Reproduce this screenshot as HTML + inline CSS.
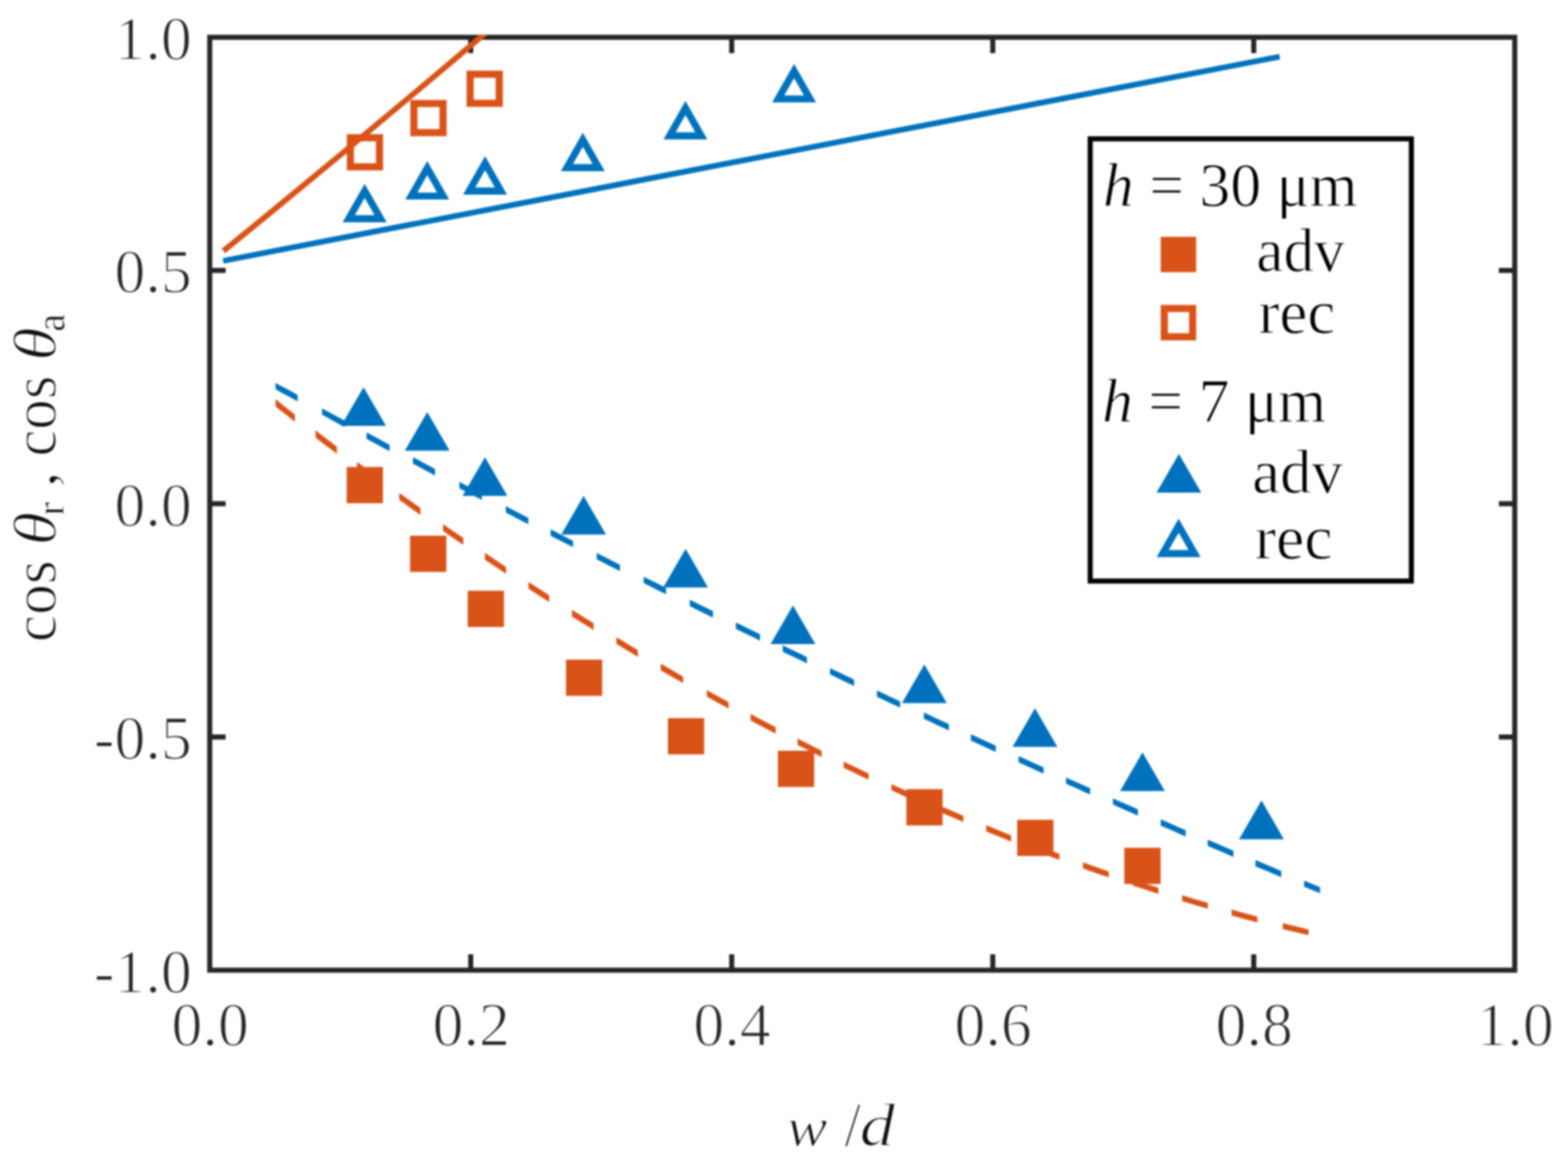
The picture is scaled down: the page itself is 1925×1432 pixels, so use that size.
<!DOCTYPE html>
<html><head><meta charset="utf-8"><title>cos theta vs w/d</title>
<style>html,body{margin:0;padding:0;background:#fff;}body{width:1925px;height:1432px;overflow:hidden;}svg{display:block;filter:blur(1px);}text{font-family:'Liberation Serif', 'Times New Roman', serif;fill:#262626;stroke:#fff;stroke-width:1.1px;paint-order:fill;}</style>
</head><body>
<svg width="1925" height="1432" viewBox="0 0 1925 1432">
<rect x="0" y="0" width="1925" height="1432" fill="#fff"/>
<defs><clipPath id="ax"><rect x="257.5" y="43.0" width="1602.1" height="1148.5"/></clipPath></defs>
<g stroke="#262626" stroke-width="6.2" fill="none">
<rect x="257.5" y="45.8" width="1602.1" height="1145.7"/>
<path d="M577.9 1191.5V1172.0M577.9 45.8V65.3M898.3 1191.5V1172.0M898.3 45.8V65.3M1218.8 1191.5V1172.0M1218.8 45.8V65.3M1539.2 1191.5V1172.0M1539.2 45.8V65.3M257.5 905.1H277.0M1859.6 905.1H1840.1M257.5 618.6H277.0M1859.6 618.6H1840.1M257.5 332.2H277.0M1859.6 332.2H1840.1"/>
</g>
<g clip-path="url(#ax)" fill="none" stroke-width="7.0">
<path d="M274 320.4L1571 69.6" stroke="#0072BD"/>
<path d="M274.30 308.21Q437.15 175.83 600.00 37.17" stroke="#D95319"/>
<path d="M338.3 470.2L345.1 473.9L351.9 477.6L358.6 481.3L365.4 485.0L365.4 493.0L358.6 489.3L351.9 485.6L345.1 481.9L338.3 478.1ZM395.3 501.4L402.2 505.2L409.2 508.9L416.1 512.7L423.1 516.5L423.1 524.4L416.1 520.7L409.2 516.9L402.2 513.1L395.3 509.3ZM450.0 531.0L457.1 534.8L464.1 538.6L471.2 542.4L478.3 546.2L478.3 554.1L471.2 550.4L464.1 546.6L457.1 542.8L450.0 539.0ZM507.0 561.5L513.8 565.1L520.5 568.8L527.3 572.3L534.1 575.9L534.1 583.9L527.3 580.3L520.5 576.7L513.8 573.1L507.0 569.5ZM564.0 591.7L570.9 595.4L577.8 599.0L584.7 602.6L591.6 606.2L591.6 614.1L584.7 610.5L577.8 606.9L570.9 603.3L564.0 599.7ZM621.0 621.6L627.9 625.2L634.8 628.8L641.7 632.4L648.6 635.9L648.6 643.8L641.7 640.2L634.8 636.7L627.9 633.1L621.0 629.5ZM676.0 650.1L682.9 653.6L689.8 657.2L696.6 660.7L703.5 664.2L703.5 672.1L696.6 668.6L689.8 665.0L682.9 661.5L676.0 658.0ZM732.6 679.1L739.7 682.7L746.9 686.3L754.0 689.9L761.1 693.5L761.1 701.4L754.0 697.8L746.9 694.2L739.7 690.5L732.6 686.9ZM790.2 708.2L797.1 711.7L804.0 715.1L810.8 718.6L817.7 722.0L817.7 729.8L810.8 726.4L804.0 722.9L797.1 719.5L790.2 716.0ZM846.8 736.5L853.9 740.0L861.0 743.6L868.2 747.1L875.3 750.6L875.3 758.4L868.2 754.9L861.0 751.4L853.9 747.9L846.8 744.3ZM903.4 764.5L910.8 768.1L918.2 771.7L925.6 775.3L933.0 779.0L933.0 786.8L925.6 783.1L918.2 779.5L910.8 775.9L903.4 772.3ZM961.0 792.6L968.4 796.2L975.8 799.7L983.2 803.3L990.6 806.9L990.6 814.7L983.2 811.1L975.8 807.5L968.4 803.9L961.0 800.4ZM1019.0 820.5L1026.4 824.1L1033.8 827.6L1041.2 831.1L1048.6 834.7L1048.6 842.4L1041.2 838.9L1033.8 835.4L1026.4 831.8L1019.0 828.3ZM1076.6 847.9L1083.7 851.3L1090.8 854.7L1098.0 858.0L1105.1 861.4L1105.1 869.1L1098.0 865.8L1090.8 862.4L1083.7 859.0L1076.6 855.7ZM1134.2 875.0L1141.9 878.6L1149.5 882.2L1157.2 885.7L1164.9 889.3L1164.9 897.0L1157.2 893.4L1149.5 889.9L1141.9 886.3L1134.2 882.7ZM1191.9 901.8L1199.6 905.3L1207.2 908.8L1214.8 912.3L1222.5 915.8L1222.5 923.5L1214.8 920.0L1207.2 916.5L1199.6 913.0L1191.9 909.5ZM1250.5 928.6L1258.2 932.1L1265.8 935.5L1273.5 939.0L1281.2 942.5L1281.2 950.1L1273.5 946.7L1265.8 943.2L1258.2 939.7L1250.5 936.3ZM1308.7 954.8L1316.1 958.2L1323.5 961.5L1330.9 964.8L1338.3 968.1L1338.3 975.7L1330.9 972.4L1323.5 969.1L1316.1 965.8L1308.7 962.5ZM1366.3 980.5L1374.0 983.9L1381.7 987.3L1389.3 990.6L1397.0 994.0L1397.0 1001.7L1389.3 998.3L1381.7 994.9L1374.0 991.5L1366.3 988.1ZM1425.0 1006.3L1432.7 1009.6L1440.3 1012.9L1447.9 1016.2L1455.6 1019.6L1455.6 1027.2L1447.9 1023.9L1440.3 1020.6L1432.7 1017.2L1425.0 1013.9ZM1482.6 1031.2L1490.5 1034.6L1498.5 1038.0L1506.4 1041.4L1514.3 1044.8L1514.3 1052.4L1506.4 1049.0L1498.5 1045.6L1490.5 1042.2L1482.6 1038.8ZM1541.3 1056.3L1549.2 1059.6L1557.2 1063.0L1565.1 1066.3L1573.0 1069.7L1573.0 1077.2L1565.1 1073.9L1557.2 1070.6L1549.2 1067.2L1541.3 1063.9ZM1601.0 1081.4L1605.9 1083.4L1610.8 1085.5L1615.7 1087.5L1620.6 1089.5L1620.6 1097.1L1615.7 1095.1L1610.8 1093.1L1605.9 1091.0L1601.0 1089.0Z" fill="#0072BD" stroke="none"/>
<path d="M338.3 490.3L344.2 495.0L350.2 499.7L356.1 504.4L362.1 509.0L362.1 517.9L356.1 513.2L350.2 508.6L344.2 503.9L338.3 499.2ZM387.4 528.6L393.9 533.6L400.4 538.6L407.0 543.5L413.5 548.5L413.5 557.3L407.0 552.3L400.4 547.4L393.9 542.4L387.4 537.4ZM438.4 567.2L444.9 572.1L451.5 576.9L458.1 581.8L464.6 586.6L464.6 595.3L458.1 590.5L451.5 585.6L444.9 580.8L438.4 575.9ZM490.2 605.3L496.7 610.0L503.2 614.6L509.7 619.3L516.2 623.9L516.2 632.5L509.7 627.9L503.2 623.3L496.7 618.6L490.2 613.9ZM543.9 643.5L550.1 647.9L556.4 652.2L562.6 656.5L568.8 660.8L568.8 669.3L562.6 665.0L556.4 660.7L550.1 656.4L543.9 652.0ZM595.3 678.9L601.8 683.3L608.3 687.7L614.8 692.1L621.3 696.4L621.3 704.8L614.8 700.5L608.3 696.1L601.8 691.8L595.3 687.4ZM648.8 714.6L655.1 718.7L661.5 722.8L667.9 726.9L674.2 731.0L674.2 739.4L667.9 735.3L661.5 731.2L655.1 727.1L648.8 722.9ZM702.2 748.9L708.8 753.1L715.5 757.2L722.1 761.3L728.7 765.5L728.7 773.7L722.1 769.6L715.5 765.5L708.8 761.3L702.2 757.2ZM756.7 782.6L763.3 786.6L769.9 790.6L776.5 794.6L783.1 798.5L783.1 806.7L776.5 802.7L769.9 798.8L763.3 794.8L756.7 790.8ZM811.2 815.1L818.1 819.1L825.0 823.1L831.8 827.0L838.7 831.0L838.7 839.0L831.8 835.1L825.0 831.2L818.1 827.2L811.2 823.2ZM867.8 847.4L874.5 851.2L881.1 854.9L887.8 858.5L894.5 862.2L894.5 870.2L887.8 866.5L881.1 862.9L874.5 859.2L867.8 855.5ZM921.5 876.8L929.2 880.9L936.9 885.0L944.5 889.1L952.2 893.1L952.2 901.0L944.5 897.0L936.9 892.9L929.2 888.9L921.5 884.8ZM979.2 907.0L986.6 910.8L994.0 914.5L1001.3 918.2L1008.7 921.9L1008.7 929.7L1001.3 926.0L994.0 922.3L986.6 918.6L979.2 914.9ZM1035.7 935.2L1043.4 938.9L1051.0 942.6L1058.7 946.2L1066.4 949.9L1066.4 957.6L1058.7 954.0L1051.0 950.3L1043.4 946.6L1035.7 942.9ZM1094.4 962.9L1102.0 966.4L1109.5 969.8L1117.0 973.2L1124.6 976.6L1124.6 984.3L1117.0 980.9L1109.5 977.5L1102.0 974.1L1094.4 970.6ZM1152.0 988.7L1159.7 992.0L1167.3 995.3L1175.0 998.6L1182.7 1001.9L1182.7 1009.5L1175.0 1006.2L1167.3 1003.0L1159.7 999.7L1152.0 996.3ZM1210.7 1013.5L1218.4 1016.6L1226.0 1019.7L1233.7 1022.8L1241.4 1025.9L1241.4 1033.4L1233.7 1030.4L1226.0 1027.3L1218.4 1024.2L1210.7 1021.1ZM1269.9 1037.0L1277.6 1039.9L1285.2 1042.8L1292.9 1045.7L1300.6 1048.6L1300.6 1056.0L1292.9 1053.2L1285.2 1050.3L1277.6 1047.4L1269.9 1044.5ZM1329.6 1059.1L1337.5 1061.9L1345.5 1064.7L1353.4 1067.5L1361.3 1070.2L1361.3 1077.6L1353.4 1074.9L1345.5 1072.2L1337.5 1069.4L1329.6 1066.6ZM1390.4 1080.1L1398.3 1082.7L1406.2 1085.3L1414.2 1087.8L1422.1 1090.3L1422.1 1097.7L1414.2 1095.2L1406.2 1092.6L1398.3 1090.0L1390.4 1087.4ZM1451.2 1099.4L1459.1 1101.8L1467.0 1104.2L1475.0 1106.5L1482.9 1108.8L1482.9 1116.1L1475.0 1113.8L1467.0 1111.5L1459.1 1109.1L1451.2 1106.7ZM1512.0 1117.1L1519.9 1119.3L1527.8 1121.5L1535.7 1123.6L1543.6 1125.7L1543.6 1132.9L1535.7 1130.8L1527.8 1128.7L1519.9 1126.6L1512.0 1124.4ZM1574.8 1133.7L1582.7 1135.7L1590.7 1137.6L1598.6 1139.6L1606.5 1141.5L1606.5 1148.6L1598.6 1146.8L1590.7 1144.8L1582.7 1142.9L1574.8 1140.9Z" fill="#D95319" stroke="none"/>
</g>
<g>
<path d="M446.3 475.4L473.8 522.9L418.8 522.9Z" fill="#0072BD"/>
<path d="M524.5 506.1L552.0 553.6L497.0 553.6Z" fill="#0072BD"/>
<path d="M595.4 561.5L622.9 609.0L567.9 609.0Z" fill="#0072BD"/>
<path d="M716.5 609.0L744.0 656.5L689.0 656.5Z" fill="#0072BD"/>
<path d="M841.7 674.0L869.2 721.5L814.2 721.5Z" fill="#0072BD"/>
<path d="M973.5 743.5L1001.0 791.0L946.0 791.0Z" fill="#0072BD"/>
<path d="M1134.8 815.9L1162.3 863.4L1107.3 863.4Z" fill="#0072BD"/>
<path d="M1270.6 869.8L1298.1 917.2L1243.1 917.2Z" fill="#0072BD"/>
<path d="M1402.6 924.0L1430.1 971.5L1375.1 971.5Z" fill="#0072BD"/>
<path d="M1548.7 983.1L1576.2 1030.7L1521.2 1030.7Z" fill="#0072BD"/>
<rect x="425.6" y="573.5" width="44.5" height="44.5" fill="#D95319"/>
<rect x="503.4" y="657.9" width="44.5" height="44.5" fill="#D95319"/>
<rect x="574.2" y="725.5" width="44.5" height="44.5" fill="#D95319"/>
<rect x="694.8" y="810.1" width="44.5" height="44.5" fill="#D95319"/>
<rect x="820.0" y="882.0" width="44.5" height="44.5" fill="#D95319"/>
<rect x="955.0" y="922.0" width="44.5" height="44.5" fill="#D95319"/>
<rect x="1112.7" y="969.2" width="44.5" height="44.5" fill="#D95319"/>
<rect x="1248.8" y="1006.8" width="44.5" height="44.5" fill="#D95319"/>
<rect x="1380.3" y="1041.2" width="44.5" height="44.5" fill="#D95319"/>
<path fill-rule="evenodd" d="M447.7 225.7L474.7 272.9L420.7 272.9ZM447.7 243.0L459.8 264.3L435.6 264.3Z" fill="#0072BD"/>
<path fill-rule="evenodd" d="M524.5 197.8L551.5 245.0L497.5 245.0ZM524.5 215.1L536.6 236.4L512.4 236.4Z" fill="#0072BD"/>
<path fill-rule="evenodd" d="M595.5 191.7L622.5 238.9L568.5 238.9ZM595.5 209.0L607.6 230.3L583.4 230.3Z" fill="#0072BD"/>
<path fill-rule="evenodd" d="M715.5 163.0L742.5 210.2L688.5 210.2ZM715.5 180.3L727.6 201.6L703.4 201.6Z" fill="#0072BD"/>
<path fill-rule="evenodd" d="M841.5 124.0L868.5 171.2L814.5 171.2ZM841.5 141.3L853.6 162.6L829.4 162.6Z" fill="#0072BD"/>
<path fill-rule="evenodd" d="M974.9 78.6L1001.9 125.8L947.9 125.8ZM974.9 95.9L987.0 117.2L962.8 117.2Z" fill="#0072BD"/>
<path fill-rule="evenodd" d="M425.8 164.8h44.5v44.5h-44.5ZM434.5 173.6h27.0v27.0h-27.0Z" fill="#D95319"/>
<path fill-rule="evenodd" d="M503.8 122.7h44.5v44.5h-44.5ZM512.5 131.4h27.0v27.0h-27.0Z" fill="#D95319"/>
<path fill-rule="evenodd" d="M572.8 86.8h44.5v44.5h-44.5ZM581.5 95.5h27.0v27.0h-27.0Z" fill="#D95319"/>
</g>
<g font-size="76">
<text x="258.0" y="1284.2" text-anchor="middle" style="stroke-width:1.6px">0.0</text>
<text x="578.4" y="1284.2" text-anchor="middle" style="stroke-width:1.6px">0.2</text>
<text x="898.8" y="1284.2" text-anchor="middle" style="stroke-width:1.6px">0.4</text>
<text x="1219.3" y="1284.2" text-anchor="middle" style="stroke-width:1.6px">0.6</text>
<text x="1539.7" y="1284.2" text-anchor="middle" style="stroke-width:1.6px">0.8</text>
<text x="1860.1" y="1284.2" text-anchor="middle" style="stroke-width:1.6px">1.0</text>
<text x="235.5" y="73.0" text-anchor="end" style="stroke-width:1.6px">1.0</text>
<text x="235.5" y="359.4" text-anchor="end" style="stroke-width:1.6px">0.5</text>
<text x="235.5" y="645.9" text-anchor="end" style="stroke-width:1.6px">0.0</text>
<text x="235.5" y="932.3" text-anchor="end" style="stroke-width:1.6px">-0.5</text>
<text x="235.5" y="1218.7" text-anchor="end" style="stroke-width:1.6px">-1.0</text>
</g>
<text font-size="77" font-style="italic" style="fill:#111;stroke-width:1.6px;" transform="translate(965.80 1406.70) scale(0.9740 0.8920)">w</text>
<text font-size="77" style="fill:#111;stroke-width:1.6px;" transform="translate(1036.80 1406.60) scale(0.9400 1.0250)">/</text>
<text font-size="77" font-style="italic" style="fill:#111;stroke-width:1.6px;" transform="translate(1055.20 1406.60) scale(1.1330 0.9570)">d</text>
<text font-size="77" style="fill:#111;stroke-width:1.6px;" transform="translate(67.65 788.80) rotate(-90) scale(0.9830 1.0000)">cos</text>
<text font-size="75" font-style="italic" style="fill:#111;stroke-width:1.6px;" transform="translate(67.70 670.10) rotate(-90) scale(1.1230 1.0000)">θ</text>
<text font-size="49" style="fill:#111;stroke-width:0.8px;" transform="translate(78.40 633.20) rotate(-90) scale(1.0270 1.0000)">r</text>
<text font-size="77" style="fill:#111;stroke-width:1.6px;" transform="translate(68.00 598.40) rotate(-90) scale(1.0100 1.0000)">,</text>
<text font-size="77" style="fill:#111;stroke-width:1.6px;" transform="translate(67.65 560.80) rotate(-90) scale(0.9700 1.0000)">cos</text>
<text font-size="75" font-style="italic" style="fill:#111;stroke-width:1.6px;" transform="translate(67.70 443.20) rotate(-90) scale(1.1270 1.0000)">θ</text>
<text font-size="50" style="fill:#111;stroke-width:0.8px;" transform="translate(79.00 407.60) rotate(-90) scale(1.0000 1.0000)">a</text>
<rect x="1338.4" y="170.5" width="394.3" height="543.1" fill="none" stroke="#000" stroke-width="6.2"/>
<g font-size="77">
<text style="fill:#000" transform="translate(1354.1 252.7) scale(0.9836 1)"><tspan font-style="italic">h</tspan> = 30 μm</text>
<text style="fill:#000" transform="translate(1542.3 333.2) scale(0.9770 1)">adv</text>
<text style="fill:#000" transform="translate(1545.0 409.1) scale(1.0020 1)">rec</text>
<text style="fill:#000" transform="translate(1352.9 518.2) scale(0.9850 1)"><tspan font-style="italic">h</tspan> = 7 μm</text>
<text style="fill:#000" transform="translate(1537.3 605.3) scale(0.9995 1)">adv</text>
<text style="fill:#000" transform="translate(1540.5 685.7) scale(1.0170 1)">rec</text>
</g>
<rect x="1425.0" y="290.8" width="43.5" height="43.5" fill="#D95319"/>
<path fill-rule="evenodd" d="M1425.0 374.6h43.5v43.5h-43.5ZM1433.8 383.3h26.0v26.0h-26.0Z" fill="#D95319"/>
<path d="M1447.3 557.5L1474.8 605.0L1419.8 605.0Z" fill="#0072BD"/>
<path fill-rule="evenodd" d="M1447.0 637.0L1474.0 684.2L1420.0 684.2ZM1447.0 654.3L1459.2 675.6L1434.8 675.6Z" fill="#0072BD"/>
</svg>
</body></html>
